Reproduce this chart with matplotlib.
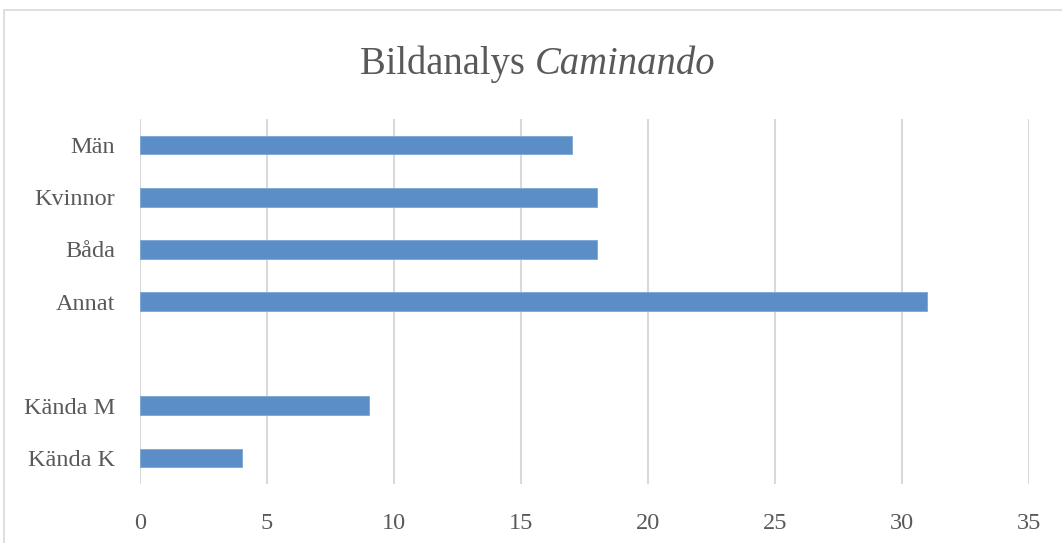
import matplotlib
matplotlib.use("Agg")
import matplotlib.pyplot as plt
from matplotlib.patches import Rectangle
import numpy as np

categories = ["Män", "Kvinnor", "Båda", "Annat", "", "Kända M", "Kända K"]
values = [17, 18, 18, 31, np.nan, 9, 4]
xticks = [0, 5, 10, 15, 20, 25, 30, 35]

W, H = 1062, 543
fig = plt.figure(figsize=(W / 100, H / 100), dpi=100)
fig.patch.set_facecolor("white")

# outer chart border (extends beyond right/bottom edge)
fig.patches.append(Rectangle((4 / W, -0.05), 1.2, 1 - 10 / H + 0.05,
                             transform=fig.transFigure, fill=False,
                             edgecolor="#d9d9d9", linewidth=1.2))

ax = fig.add_axes([140 / W, 1 - 484 / H, (1029 - 140) / W, (484 - 119) / H])

font = "Liberation Serif"
txt_color = "#595959"

y = np.arange(len(categories))
vals = np.array(values, dtype=float)
mask = ~np.isnan(vals)
ax.barh(y[mask], vals[mask], height=0.36, color="#5B8EC6",
        edgecolor="#7aa6d6", linewidth=0.6, zorder=3)

ax.set_xlim(0, 35)
ax.set_ylim(len(categories) - 0.5, -0.5)
ax.set_xticks(xticks)
ax.set_xticklabels([str(t) for t in xticks], fontfamily=font, fontsize=17.5, color=txt_color)
ax.set_yticks(y)
ax.set_yticklabels(categories, fontfamily=font, fontsize=17.5, color=txt_color)
ax.tick_params(axis="both", length=0)
ax.tick_params(axis="y", pad=18)
ax.tick_params(axis="x", pad=21)
ax.grid(axis="x", color="#d9d9d9", linewidth=1.5, zorder=0)
for s in ax.spines.values():
    s.set_visible(False)

ty = 1 - 64 / H
fig.text(360 / W, ty, "Bildanalys ", fontfamily=font, fontsize=27.8,
         color=txt_color, ha="left", va="center")
r = fig.canvas.get_renderer()
t1 = fig.texts[-1]
bb = t1.get_window_extent(renderer=r)
fig.text(bb.x1 / W, ty, "Caminando", fontfamily=font, fontsize=27.8,
         style="italic", color=txt_color, ha="left", va="center")

fig.savefig("out.png", dpi=100, facecolor="white")
